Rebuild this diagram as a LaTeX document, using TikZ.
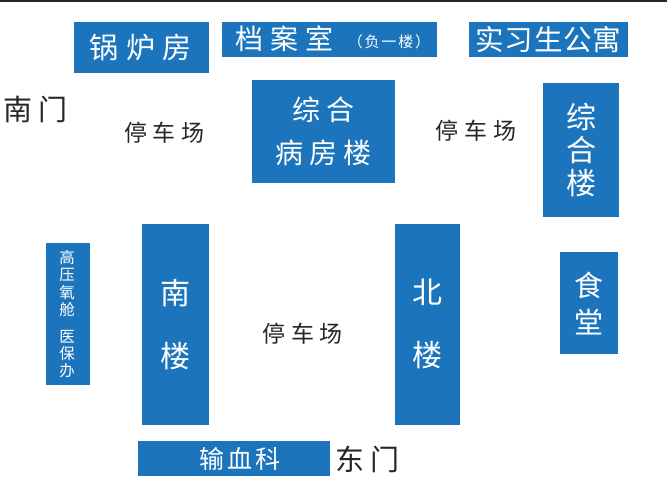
\documentclass[tikz,border=0pt]{standalone}
\usepackage{fontspec}
\setmainfont{Noto Sans CJK SC}
\definecolor{bldgblue}{HTML}{1C75BC}
\newcommand{\fsp}[3]{\fontsize{#1}{#2}\selectfont\addfontfeature{LetterSpace=#3}}

\begin{document}
\begin{tikzpicture}[
    x=1pt, y=-1pt,
    bldg/.style={fill=bldgblue, text=white, inner sep=0pt, align=center},
    lbl/.style={text=black!85, inner sep=0pt, align=center},
    park/.style={lbl, font=\fsp{23}{23}{24}},
    gate/.style={lbl, font=\fsp{29}{29}{22}},
    ]
    \useasboundingbox (0,0) rectangle (667,496);
    \coordinate (topl) at (0,1.2);
    \coordinate (topr) at (667,1.2);
    \draw[line width=1.6pt, black!85] (topl) -- (topr);

    \node[bldg, minimum width=135pt, minimum height=51pt, font=\fsp{29}{29}{25}] (guolu) at (141.5,47.2) {};
    \node[text=white, inner sep=0pt, font=\fsp{29}{29}{25}] (guoluname) at (140.5,47.2) {锅炉房};
    \node[bldg, minimum width=214.5pt, minimum height=34.8pt] (dangan) at (329.7,39.1) {};
    \node[text=white, inner sep=0pt, font=\fsp{28}{28}{25}] (danganname) at (284,38.5) {档案室};
    \node[text=white, inner sep=0pt, font=\fsp{15}{15}{12}] (danganfloor) at (389,42) {（负一楼）};
    \node[bldg, minimum width=159pt, minimum height=34.8pt, font=\fsp{28.5}{29}{3}] (shixi) at (548.5,39.1) {实习生公寓};
    \node[bldg, minimum width=143pt, minimum height=103pt, font=\fsp{28}{43}{22}] (bingfang) at (323.5,131.5) {综合\\病房楼};
    \node[bldg, minimum width=76pt, minimum height=134pt, font=\fsp{30}{33}{0}] (zonghe) at (581,150) {综\\合\\楼};
    \node[bldg, minimum width=43.5pt, minimum height=141.7pt] (gaoya) at (68.2,314.2) {};
    \node[text=white, inner sep=0pt, align=center, font=\fsp{15.5}{17.3}{0}] (gaoyaname) at (67.2,314.2) {高\\压\\氧\\舱\\[9.5pt]医\\保\\办};
    \node[bldg, minimum width=67pt, minimum height=201pt, font=\fsp{30}{63}{0}] (nanlou) at (175,324.4) {南\\楼};
    \node[bldg, minimum width=65pt, minimum height=201pt, font=\fsp{30}{63}{0}] (beilou) at (427.5,324) {北\\楼};
    \node[bldg, minimum width=58pt, minimum height=102pt, font=\fsp{29}{37}{0}] (shitang) at (589,303) {食\\堂};
    \node[bldg, minimum width=191.5pt, minimum height=35pt] (shuxue) at (234.2,458.5) {};
    \node[text=white, inner sep=0pt, font=\fsp{25}{25}{11}] (shuxuename) at (240,458.5) {输血科};

    \node[gate] (nanmen) at (35.5,109) {南门};
    \node[gate] (dongmen) at (367.5,459) {东门};
    \node[park] (parkw) at (164.5,133) {停车场};
    \node[park] (parke) at (476,131) {停车场};
    \node[park] (parkc) at (303,334) {停车场};
\end{tikzpicture}
\end{document}
